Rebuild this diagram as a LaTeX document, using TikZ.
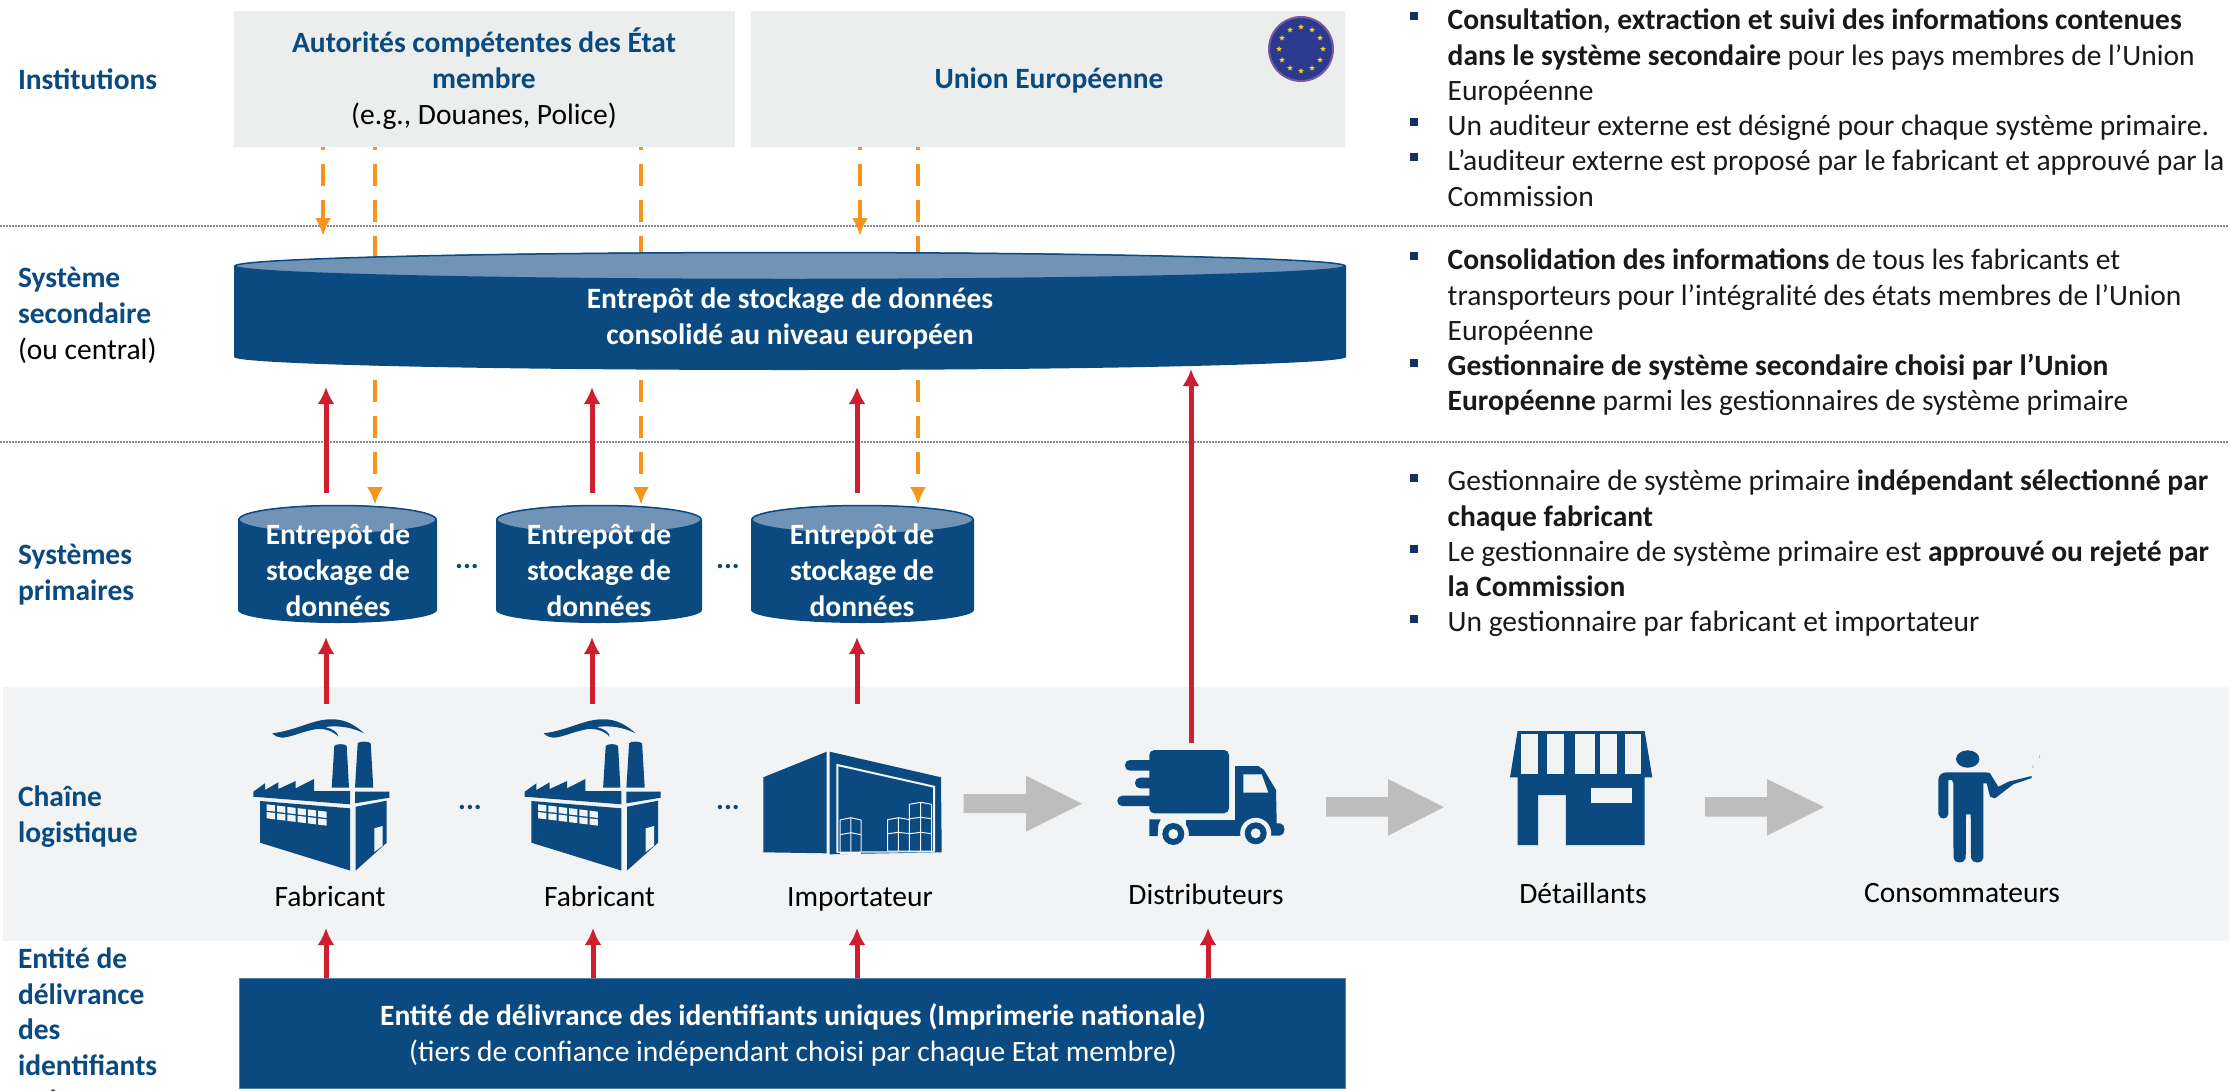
\documentclass[tikz,border=0pt]{standalone}
\usepackage{fontspec}
\setmainfont{Carlito}
\usetikzlibrary{arrows.meta,shapes.geometric,calc}
\definecolor{navy}{HTML}{0A4A80}
\definecolor{lid}{HTML}{7193B6}
\definecolor{boxgrey}{HTML}{ECEEEE}
\definecolor{band}{HTML}{F1F3F4}
\definecolor{orangeline}{HTML}{F7941D}
\definecolor{redline}{HTML}{CF1F2E}
\definecolor{greyarrow}{HTML}{BDBDBD}
\definecolor{dotline}{HTML}{8A8A8A}
\definecolor{bulletc}{HTML}{14305F}
\definecolor{flagblue}{HTML}{2B3A8C}
\definecolor{flagrim}{HTML}{7A5A9E}
\definecolor{staryellow}{HTML}{F5D327}
\newcommand{\fs}{\fontsize{29.5}{36}\selectfont}
\tikzset{
  x=1pt,y=-1pt,
  every node/.style={font=\fs,inner sep=0pt,outer sep=0pt},
  sep/.style={dotline,line width=2pt,dash pattern=on 2pt off 1pt},
  ora/.style={orangeline,line width=4.5pt,dash pattern=on 22pt off 14pt,dash phase=19.3pt},
  oratip/.style={-{Latex[length=18pt,width=16pt]}},
  redl/.style={redline,line width=5pt,-{Latex[length=17pt,width=17pt]}},
  greybox/.style={fill=boxgrey,minimum height=136pt},
  lab/.style={anchor=west,align=left,text=navy,font=\fs\bfseries},
  cylt/.style={align=center,text=white,font=\fs\bfseries},
  capt/.style={text=black},
  dots/.style={text=navy,font=\fs\bfseries},
  rtext/.style={anchor=north west,align=left,text=black!90,font=\fontsize{29.5}{35.3}\selectfont},
  factory/.pic={
    \fill[navy] (19.3,13.3) .. controls (45,10) and (60,-1) .. (78.7,-0.7) .. controls (93,-1) and (103,6) .. (111.3,13.3)
      .. controls (100,8) and (88,5) .. (72,7) .. controls (80,9) and (85,12) .. (85.3,16.7)
      .. controls (80,11) and (72,8.5) .. (64,9) .. controls (50,11) and (38,17.5) .. (28.7,17.7)
      .. controls (25,17.5) and (22,16) .. (19.3,13.3) -- cycle;
    \fill[navy] (78.7,67.7) -- (81.3,26) .. controls (83,23.5) and (92,23.5) .. (93.7,26) -- (96,67.7) -- cycle;
    \fill[navy] (102,67.7) -- (104.7,23.3) .. controls (106,21) and (116,21) .. (117.7,23.3) -- (120.3,67.7) -- cycle;
    \fill[navy] (0.3,71.7) -- (12,63.3) -- (12,70) -- (25.3,62.3) -- (25.3,69) -- (42.7,61) -- (42.7,68.3) -- (61,59) -- (61,71) -- (97,71) -- (97,84.3) -- (0.3,76.7) -- cycle;
    \fill[navy] (102,71.7) -- (136.3,71.7) -- (136.3,77.7) -- (102,83.3) -- cycle;
    \fill[navy] (7,81) -- (97,88.3) -- (97,150.5) -- (7,122.7) -- cycle;
    \fill[navy] (102.7,86.7) -- (133.7,80.7) -- (133.7,122.7) -- (102.7,150.5) -- cycle;
    \fill[band] (121.3,108.3) -- (129.7,106) -- (129.7,125.7) -- (121.3,132) -- cycle;
    \foreach \i in {0,...,5} \foreach \j in {0,1}
      \fill[band] ({13.7+10.3*\i},{84.3+7.7*\j+1.27*\i}) -- ++(8.3,1) -- ++(0,6.3) -- ++(-8.3,-1) -- cycle;
  },
  warehouse/.pic={
    \fill[navy] (-0.5,25.6) -- (62.9,0) -- (62.9,101.6) -- (-0.5,100.6) -- cycle;
    \fill[navy] (65.9,0) -- (177.2,25.6) -- (177.9,100.6) -- (65.9,102.6) -- cycle;
    \draw[band,line width=2pt] (73.5,101) -- (73.5,13.3) -- (170.2,35) -- (170.2,100);
    \draw[band,line width=1.2pt] (73.5,100.5) -- (170.2,100);
    \draw[band,line width=2pt] (76,101) -- (97.2,101);
    \draw[band,line width=1pt] (76.2,100) -- (76.2,68.3) -- (87,66) -- (97.2,68.3) -- (97.2,100) (76.2,83) -- (87,81) -- (97.2,83) (87,66) -- (87,100);
    \draw[band,line width=1pt] (123.9,99.3) -- (123.9,68) -- (134.5,66) -- (146.2,68) (123.9,82) -- (134.5,80.6) -- (146.2,82) (134.5,66) -- (134.5,99.3) (123.9,99.3) -- (167.9,99.3);
    \draw[band,line width=1pt] (145.5,99.3) -- (145.5,52.6) -- (156.9,50.6) -- (167.9,52.6) -- (167.9,99.3) (145.5,67) -- (156.9,65.6) -- (167.9,67) (145.5,82) -- (156.9,80.6) -- (167.9,82) (156.9,50.6) -- (156.9,99.3);
  },
}
\begin{document}
\begin{tikzpicture}
\useasboundingbox (0,0) rectangle (2229,1090);
\clip (0,0) rectangle (2229,1090);
\fill[white] (0,0) rectangle (2229,1090);
% band
\fill[band] (3,687) rectangle (2229,941);
% separators
\coordinate (sepa) at (0,226); \coordinate (sepae) at (2229,226);
\coordinate (sepb) at (0,442); \coordinate (sepbe) at (2229,442);
\draw[sep] (sepa) -- (sepae);
\draw[sep] (sepb) -- (sepbe);
% free ends
\coordinate (oa0) at (323,147); \coordinate (oa1) at (323,236);
\coordinate (ob0) at (375,147); \coordinate (ob1) at (375,505);
\coordinate (oc0) at (641,147); \coordinate (oc1) at (641,505);
\coordinate (od0) at (860,147); \coordinate (od1) at (860,236);
\coordinate (oe0) at (918,147); \coordinate (oe1) at (918,505);
\draw[ora,oratip] (oa0) -- (oa1);
\draw[ora,oratip] (ob0) -- (ob1);
\draw[ora,oratip] (oc0) -- (oc1);
\draw[ora,oratip] (od0) -- (od1);
\draw[ora,oratip] (oe0) -- (oe1);
% institution boxes
\node[greybox,minimum width=501pt] (autor) at (484.5,78.5) {};
\node[greybox,minimum width=594pt] (union) at (1048,78.5) {};
\node[align=center,text=navy] (autorT) at (484,78.5) {\textbf{Autorités compétentes des État}\\\textbf{membre}\\\textcolor{black}{(e.g., Douanes, Police)}};
\node[text=navy,font=\fs\bfseries] (unionT) at (1049,80) {Union Européenne};
% flag
\node[circle,fill=flagblue,draw=flagrim,line width=2pt,minimum size=64pt] (flag) at (1301,49) {};
\foreach \a in {0,30,...,330}
  \node[star,star points=5,star point ratio=2.3,fill=staryellow,minimum size=6pt] (st\a) at ($(flag.center)+(\a:22)$) {};
% big cylinder
\fill[navy] (234,266) -- (234,357) arc[start angle=180,end angle=360,x radius=556pt,y radius=13pt] -- (1346,266) arc[start angle=0,end angle=180,x radius=556pt,y radius=14pt] -- cycle;
\fill[lid,draw=navy,line width=1.5pt] (790,266) ellipse[x radius=555pt,y radius=13.5pt];
\node[cylt] (bigT) at (790,318) {Entrepôt de stockage de données\\consolidé au niveau européen};
% small cylinders
\foreach \n/\xa/\xb in {a/238/437,b/496/702,c/751/974}{
  \pgfmathsetmacro{\rx}{(\xb-\xa)/2}
  \pgfmathsetmacro{\cx}{(\xb+\xa)/2}
  \fill[navy] (\xa,520) -- (\xa,610) arc[start angle=180,end angle=360,x radius=\rx pt,y radius=13pt] -- (\xb,520) arc[start angle=0,end angle=180,x radius=\rx pt,y radius=15pt] -- cycle;
  \fill[lid,draw=navy,line width=1.5pt] (\cx,519.5) ellipse[x radius=\rx pt-1pt,y radius=14pt];
}
\node[cylt] (smA) at (338,570) {Entrepôt de\\stockage de\\données};
\node[cylt] (smB) at (599,570) {Entrepôt de\\stockage de\\données};
\node[cylt] (smC) at (862,570) {Entrepôt de\\stockage de\\données};
\node[dots] (dotsA) at (467,567) {...};
\node[dots] (dotsB) at (728,567) {...};
\node[dots] (dotsC) at (470,808) {...};
\node[dots] (dotsD) at (728,808) {...};
% red arrows
\coordinate (ra0) at (326,493); \coordinate (ra1) at (326,387);
\coordinate (rb0) at (592,493); \coordinate (rb1) at (592,387);
\coordinate (rc0) at (857,493); \coordinate (rc1) at (857,387);
\coordinate (rd0) at (1191,743); \coordinate (rd1) at (1191,369);
\coordinate (sa0) at (326,704); \coordinate (sa1) at (326,637);
\coordinate (sb0) at (592,704); \coordinate (sb1) at (592,637);
\coordinate (sc0) at (857,704); \coordinate (sc1) at (857,637);
\draw[redl] (ra0) -- (ra1);
\draw[redl] (rb0) -- (rb1);
\draw[redl] (rc0) -- (rc1);
\draw[redl] (rd0) -- (rd1);
\draw[redl] (sa0) -- (sa1);
\draw[redl] (sb0) -- (sb1);
\draw[redl] (sc0) -- (sc1);
% bottom box
\node[fill=navy,minimum width=1106pt,minimum height=110pt,draw=navy!70!white,line width=.8pt] (issuer) at (792,1033) {};
\node[align=center,text=white] (issuerT) at (793,1035) {\textbf{Entité de délivrance des identifiants uniques (Imprimerie nationale)}\\(tiers de confiance indépendant choisi par chaque Etat membre)};
\coordinate (ta1) at (326,928); \coordinate (tb1) at (593,928); \coordinate (tc1) at (857,928); \coordinate (td1) at (1208,928);
\draw[redl] (issuer.north -| ta1) -- (ta1);
\draw[redl] (issuer.north -| tb1) -- (tb1);
\draw[redl] (issuer.north -| tc1) -- (tc1);
\draw[redl] (issuer.north -| td1) -- (td1);
% icons
\pic at (253,720) {factory};
\pic at (524.4,720) {factory};
\pic at (763.8,751.7) {warehouse};
% truck
\fill[navy,rounded corners=5pt] (1149.3,813.3) -- (1149.3,750) -- (1229,750) -- (1229,813.3) -- cycle;
\fill[navy,rounded corners=5pt] (1125,760) rectangle (1156,770.7);
\fill[navy,rounded corners=5pt] (1135,777.7) rectangle (1156,788.3);
\fill[navy,rounded corners=5pt] (1117.3,795.7) rectangle (1156,806);
\fill[navy] (1235,766) -- (1258.3,766) -- (1264,770) -- (1276,790) -- (1276.7,823.3) -- (1280,823.3) .. controls (1286,824) and (1286,835) .. (1280,835.5) -- (1235,836) -- cycle;
\fill[band] (1243.3,774.3) -- (1261.7,774.3) -- (1268.3,792.7) -- (1243.3,792.7) -- cycle;
\fill[navy] (1186,820) rectangle (1240,836);
\fill[navy] (1149.3,819.3) -- (1160.7,819.3) -- (1158.3,825) -- (1157.7,836) -- (1149.3,836) -- cycle;
\foreach \c in {(1173.3,834),(1255.7,833.3)}{
  \fill[band] \c circle[radius=15.5pt];
  \fill[navy] \c circle[radius=11pt];
  \fill[band] \c circle[radius=5pt];
}
% grey arrows
\fill[greyarrow] (963.5,794) -- (1026,794) -- (1026,775.7) -- (1082,803.7) -- (1026,831.7) -- (1026,813) -- (963.5,813) -- cycle;
\fill[greyarrow] (1326,797) -- (1388,797) -- (1388,779) -- (1444,807) -- (1388,835.7) -- (1388,816.7) -- (1326,816.7) -- cycle;
\fill[greyarrow] (1705,797) -- (1767,797) -- (1767,779) -- (1824,807) -- (1767,835.7) -- (1767,816.7) -- (1705,816.7) -- cycle;
% store
\fill[navy] (1517.6,731) -- (1644.6,731) -- (1652.3,777.3) -- (1644.6,777.3) -- (1644.6,845) -- (1565.8,845) -- (1565.8,795) -- (1538,795) -- (1538,845) -- (1517.6,845) -- (1517.6,777.3) -- (1510,777.3) -- cycle;
\foreach \p/\q in {1521.4/1537.5,1546.7/1564.3,1575/1594.9,1600.2/1617,1624.7/1640.8}
  \fill[band] (\p,734) -- (\q,734) -- (\q,774) -- (\p,774) -- cycle;
\fill[band] (1591,788) rectangle (1632.4,802.7);
% person
\fill[navy] (1967.7,759) ellipse[x radius=11.7pt,y radius=8.7pt];
\fill[navy] (1938.3,814) -- (1938.3,780) .. controls (1938.3,775) and (1942,772.3) .. (1947,772.3) -- (1985,772.3) .. controls (1988,772.3) and (1989.5,773) .. (1990,773.3) -- (1998.3,786.7) -- (2008.3,781.7) -- (2031.7,776) -- (2031.7,778) -- (2013.3,784.3) -- (1995,798.3) -- (1990,796.7) -- (1986.7,783.3) -- (1983.3,783.3) -- (1983.3,858) .. controls (1983,864) and (1972,864) .. (1971,858) -- (1970.7,814.3) -- (1966,814.3) -- (1965.7,858) .. controls (1965,864) and (1954,864) .. (1953.5,858) -- (1953.3,783) -- (1952,780) -- (1948.3,780) -- (1948.3,814) .. controls (1948,820) and (1939,820) .. (1938.3,814) -- cycle;
\draw[greyarrow,line width=1pt] (2032.7,768) -- (2032.9,765) (2039.7,758) -- (2039.5,755);
% captions
\node[capt] (c1) at (330,896) {Fabricant};
\node[capt] (c2) at (599.5,896) {Fabricant};
\node[capt] (c3) at (860,899) {Importateur};
\node[capt] (c4) at (1206,894) {Distributeurs};
\node[capt] (c5) at (1583,893) {Détaillants};
\node[capt] (c6) at (1962,893) {Consommateurs};
% left labels
\node[lab] (l1) at (18,79) {Institutions};
\node[lab] (l2) at (18,315.5) {Système\\secondaire\\\textcolor{black}{\mdseries(ou central)}};
\node[lab] (l3) at (18,575) {Systèmes\\primaires};
\node[lab] (l4) at (18,817) {Chaîne\\logistique};
\node[lab,anchor=north west,font=\fontsize{29.5}{35.5}\selectfont\bfseries] (l5) at (18,948) {Entité de\\délivrance\\des\\identifiants\\uniques};
% right text
\foreach \y in {16,122,157,256,363,478,549,619}
  \fill[bulletc] (1409.7,{\y-4.2}) rectangle ++(7.8,8.4);
\node[rtext] (r1) at (1447.7,9) {\textbf{Consultation, extraction et suivi des informations contenues}\\\textbf{dans le système secondaire} pour les pays membres de l’Union\\Européenne\\Un auditeur externe est désigné pour chaque système primaire.\\L’auditeur externe est proposé par le fabricant et approuvé par la\\Commission};
\node[rtext] (r2) at (1447.7,249) {\textbf{Consolidation des informations} de tous les fabricants et\\transporteurs pour l’intégralité des états membres de l’Union\\Européenne\\\textbf{Gestionnaire de système secondaire choisi par l’Union}\\\textbf{Européenne} parmi les gestionnaires de système primaire};
\node[rtext] (r3) at (1447.7,470) {Gestionnaire de système primaire \textbf{indépendant sélectionné par}\\\textbf{chaque fabricant}\\Le gestionnaire de système primaire est \textbf{approuvé ou rejeté par}\\\textbf{la Commission}\\Un gestionnaire par fabricant et importateur};
\end{tikzpicture}
\end{document}
